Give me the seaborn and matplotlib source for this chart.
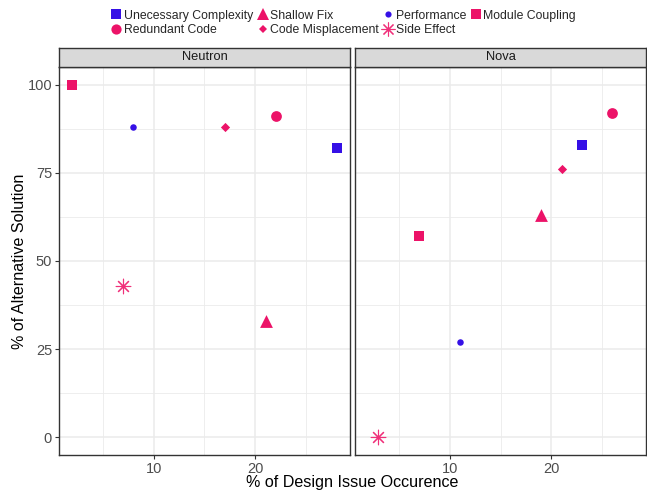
import matplotlib
matplotlib.use("Agg")
import matplotlib.pyplot as plt
from matplotlib.lines import Line2D
from matplotlib.ticker import MultipleLocator
import seaborn as sns
import pandas as pd

# --- data ---
issues = ["Unecessary Complexity", "Redundant Code", "Shallow Fix",
          "Code Misplacement", "Performance", "Side Effect", "Module Coupling"]
projects = ["Neutron", "Nova"]
neutron_occurence = [28, 22, 21, 17, 8, 7, 2]
neutron_alternative = [82, 91, 33, 88, 88, 43, 100]
nova_occurence = [23, 26, 19, 21, 11, 3, 7]
nova_alternative = [83, 92, 63, 76, 27, 0, 57]

# --- styling ---
BLUE = "#3510E6"
PINK = "#EC1368"
ASTERISK = (8, 2, 0)
style = {
    "Unecessary Complexity": dict(color=BLUE, marker="s", s=62),
    "Redundant Code": dict(color=PINK, marker="o", s=60),
    "Shallow Fix": dict(color=PINK, marker="^", s=85),
    "Code Misplacement": dict(color=PINK, marker="D", s=22),
    "Performance": dict(color=BLUE, marker="o", s=22),
    "Side Effect": dict(color="#F0307A", marker=ASTERISK, s=110),
    "Module Coupling": dict(color=PINK, marker="s", s=62),
}

df = pd.concat([
    pd.DataFrame({"project": "Neutron", "issue": issues,
                  "occurence": neutron_occurence, "alternative": neutron_alternative}),
    pd.DataFrame({"project": "Nova", "issue": issues,
                  "occurence": nova_occurence, "alternative": nova_alternative}),
])

sns.set_style("white")
plt.rcParams["font.family"] = ["Liberation Sans", "DejaVu Sans"]

W, H = 647, 494
fig = plt.figure(figsize=(W / 100, H / 100), dpi=100)

panel_left = [59, 355]
panel_w = 291
panel_top, panel_bottom = 67, 455
strip_top = 48

for i, proj in enumerate(projects):
    x0 = panel_left[i] / W
    ax = fig.add_axes([x0, 1 - panel_bottom / H, panel_w / W, (panel_bottom - panel_top) / H])
    sub = df[df["project"] == proj]
    for issue in issues:
        st = style[issue]
        pts = sub[sub["issue"] == issue]
        filled = st["marker"] != ASTERISK
        sns.scatterplot(data=pts, x="occurence", y="alternative", ax=ax,
                        color=st["color"], edgecolor=st["color"], marker=st["marker"],
                        s=st["s"], linewidth=0 if filled else 0.8, zorder=3, legend=False)
    ax.set_xlim(0.7, 29.3)
    ax.set_ylim(-5, 105)
    ax.xaxis.set_major_locator(MultipleLocator(10))
    ax.xaxis.set_minor_locator(MultipleLocator(5))
    ax.yaxis.set_major_locator(MultipleLocator(25))
    ax.yaxis.set_minor_locator(MultipleLocator(12.5))
    ax.grid(True, which="major", color="#EBEBEB", linewidth=1.1, zorder=0)
    ax.grid(True, which="minor", color="#EBEBEB", linewidth=0.6, zorder=0)
    ax.set_axisbelow(True)
    for sp in ax.spines.values():
        sp.set_color("#333333")
        sp.set_linewidth(1.0)
    ax.tick_params(axis="both", which="major", length=3, width=0.8, color="#333333",
                   labelsize=10.5, labelcolor="#4D4D4D", pad=2, bottom=True, left=(i == 0))
    ax.tick_params(which="minor", length=0)
    ax.set_xlabel("")
    ax.set_ylabel("")
    if i > 0:
        ax.set_yticklabels([])

    # facet strip
    sax = fig.add_axes([x0, 1 - panel_top / H, panel_w / W, (panel_top - strip_top) / H])
    sax.set_facecolor("#D9D9D9")
    sax.set_xticks([])
    sax.set_yticks([])
    for sp in sax.spines.values():
        sp.set_color("#333333")
        sp.set_linewidth(1.0)
    sax.text(0.5, 0.5, proj, ha="center", va="center", fontsize=9.3,
             color="#1A1A1A", transform=sax.transAxes)

fig.text(352 / W, 1 - 482 / H, "% of Design Issue Occurence", ha="center", va="center",
         fontsize=11.6, color="black")
fig.text(20 / W, 1 - 261 / H, "% of Alternative Solution", ha="center", va="center",
         rotation=90, fontsize=11.6, color="black")

handles = []
for issue in issues:
    st = style[issue]
    filled = st["marker"] != ASTERISK
    handles.append(Line2D([], [], linestyle="none", marker=st["marker"],
                          markersize=(st["s"] ** 0.5) * 0.95,
                          markerfacecolor=st["color"], markeredgecolor=st["color"],
                          markeredgewidth=0 if filled else 0.8))
fig.legend(handles, issues, loc="upper center", bbox_to_anchor=(343 / W, 1.0),
           ncol=4, frameon=False, fontsize=8.8, handletextpad=0.1,
           columnspacing=0.3, handlelength=1.0, labelspacing=0.2, borderpad=0.3)

fig.savefig("out.png", dpi=100)
